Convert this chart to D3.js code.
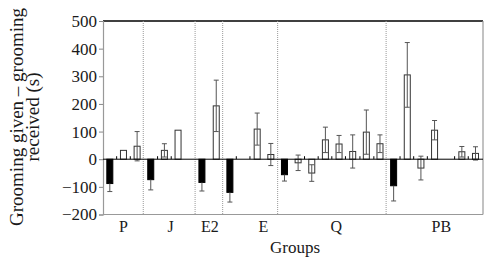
<!DOCTYPE html>
<html><head><meta charset="utf-8">
<script src="https://cdn.jsdelivr.net/npm/d3@7"></script>
<style>body{margin:0;background:#fff}svg{display:block}text{font-family:"Liberation Serif","Times New Roman",serif !important;fill:#1a1a1a}</style>
</head><body><svg id="c" width="493" height="263"></svg>
<script>
// ---- data ----
const groups = ["P","J","E2","E","Q","PB"];
const groupLabelAt = [1.5, 4.95, 7.84, 11.75, 17.1, 24.8];
const dividers = [2.95, 6.75, 8.77, 12.8, 20.75];
const barGroup = ["P","P","P","J","J","J","E2","E2","E","E","E","Q","Q","Q","Q","Q","Q","Q","Q","PB","PB","PB","PB","PB","PB"];
const barSlot  = [0.5,1.5,2.5,3.5,4.5,5.5,7.25,8.3,9.3,11.3,12.3,13.3,14.3,15.3,16.3,17.3,18.3,19.3,20.3,21.3,22.3,23.3,24.3,26.3,27.3];
const barKind  = ["b","w","w","b","w","w","b","w","b","w","w","b","w","w","w","w","w","w","w","b","w","w","w","w","w"];
const barMean  = [-88,32,47,-74,32,105,-84,193,-120,109,17,-56,-13,-50,70,55,28,98,56,-96,305,-32,105,27,21];
const barErr   = [29,0,53,37,24,0,31,93,35,58,40,23,28,30,46,31,60,80,32,55,117,43,35,19,24];
const minorTicks = [1,2,4,5,9.77,10.77,14.77,15.77,16.77,17.77,18.83,19.85,21.77,22.77,23.77,25.77,26.77];
const yTicks = [-200,-100,0,100,200,300,400,500];

// ---- drawing ----
const svg = d3.select("#c");
const L = 103, R = 483, T = 21, B = 214.5;
const x = d3.scaleLinear().domain([0, 27.85]).range([L, R]);
const y = d3.scaleLinear().domain([-200, 500]).range([B, T]);
const bw = x(0.44) - x(0);

// frame
svg.append("line").attr("x1",L).attr("x2",R).attr("y1",T).attr("y2",T).attr("stroke","#000").attr("stroke-width",1.5);
svg.append("line").attr("x1",R).attr("x2",R).attr("y1",T).attr("y2",B).attr("stroke","#999").attr("stroke-width",1.2);
svg.append("line").attr("x1",L).attr("x2",R).attr("y1",B).attr("y2",B).attr("stroke","#999").attr("stroke-width",1.2);

// dividers
svg.selectAll(".div").data(dividers).join("line")
  .attr("x1",d=>x(d)).attr("x2",d=>x(d)).attr("y1",T).attr("y2",B)
  .attr("stroke","#999").attr("stroke-width",1).attr("stroke-dasharray","1,1");

// y axis
const ya = svg.append("g").attr("transform",`translate(${L},0)`)
  .call(d3.axisLeft(y).tickValues(yTicks).tickSize(4).tickPadding(2).tickFormat(d=>d<0?"\u2212"+(-d):d));
ya.attr("font-family", null).attr("font-size", null);
ya.select(".domain").attr("stroke","#999").attr("stroke-width",1.2);
ya.selectAll(".tick line").attr("stroke","#888");
ya.selectAll(".tick text").style("font-size","17px").attr("fill","#1a1a1a");

// bars
const bars = barMean.map((m,i)=>({m, e:barErr[i], s:barSlot[i], k:barKind[i], g:barGroup[i]}));
svg.selectAll(".bar").data(bars).join("rect")
  .attr("x",d=>x(d.s)-bw/2).attr("width",bw)
  .attr("y",d=>y(Math.max(0,d.m))).attr("height",d=>Math.abs(y(d.m)-y(0)))
  .attr("fill",d=>d.k==="b"?"#000":"#fff")
  .attr("stroke",d=>d.k==="b"?"#000":"#333").attr("stroke-width",1);

// error bars
const eb = bars.filter(d=>d.e>0);
const ends = d => d.k==="b" ? [d.m, d.m - d.e] : [d.m - d.e, d.m + d.e];
const eg = svg.selectAll(".eb").data(eb).join("g").attr("stroke","#555").attr("stroke-width",1);
eg.append("line").attr("x1",d=>x(d.s)).attr("x2",d=>x(d.s))
  .attr("y1",d=>y(ends(d)[0])).attr("y2",d=>y(ends(d)[1]));
eg.each(function(d){
  const g = d3.select(this);
  const e = d.k==="b" ? [ends(d)[1]] : ends(d);
  e.forEach(v=>g.append("line").attr("x1",x(d.s)-2.5).attr("x2",x(d.s)+2.5).attr("y1",y(v)).attr("y2",y(v)));
});

// zero line and its small ticks
svg.append("line").attr("x1",L).attr("x2",R).attr("y1",y(0)).attr("y2",y(0)).attr("stroke","#000").attr("stroke-width",1);
svg.selectAll(".mt").data(minorTicks).join("line")
  .attr("x1",d=>x(d)).attr("x2",d=>x(d)).attr("y1",y(0)).attr("y2",y(0)-3)
  .attr("stroke","#000").attr("stroke-width",1);

// group labels
svg.selectAll(".gl").data(groups).join("text")
  .attr("x",(d,i)=>x(groupLabelAt[i])).attr("y",232).attr("text-anchor","middle")
  .style("font-size","16px").text(d=>d);

// axis titles
svg.append("text").attr("x",295).attr("y",253).attr("text-anchor","middle").style("font-size","17px").text("Groups");
const yl = svg.append("text").attr("transform","translate(0,117) rotate(-90)").attr("text-anchor","middle").style("font-size","19px");
yl.append("tspan").attr("x",0).attr("y",23).text("Grooming given \u2013 grooming");
yl.append("tspan").attr("x",0).attr("y",39).text("received (s)");
</script></body></html>
